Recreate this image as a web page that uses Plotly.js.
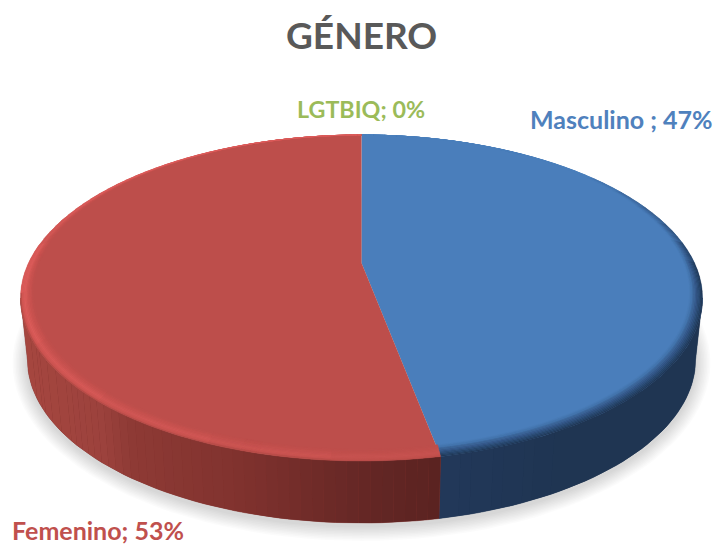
<!DOCTYPE html>
<html>
<head>
<meta charset="utf-8">
<script src="https://cdn.plot.ly/plotly-3.0.1.min.js"></script>
<style>html,body{margin:0;padding:0;background:#fff}#chart{width:716px;height:544px}</style>
</head>
<body>
<div id="chart"></div>
<script>
// Data
const categories = ['Masculino ', 'Femenino', 'LGTBIQ'];
const shares = [47, 53, 0];
const chartTitle = 'GÉNERO';

// Drawing parameters of the tilted disc
const top3d = {cx: 361.5, cy: 298, rx: 341, ry: 163, tipDrop: 35};
const bottom3d = {cx: 361.5, cy: 360, rx: 334, ry: 163};
const bevel = {dx: 13, dy: 6, rings: 10};
const faceColors = ['#4a7ebb', '#bd4e4b', '#9bbb59'];
const c = top3d.tipDrop / top3d.ry, k = Math.sqrt(1 - c * c);
const rad = d => d * Math.PI / 180;

function unit(deg) { // perspective: pie angle to point of unit circle
  const u = Math.sin(rad(deg)), v = Math.cos(rad(deg)), den = 1 + c * v;
  return [u * k / den, (v + c) / den];
}
function onTop(deg, t) {
  const [a, b] = unit(deg);
  return [top3d.cx + a * (top3d.rx - bevel.dx * t),
          top3d.cy - bevel.dy * t - b * (top3d.ry - bevel.dy * t)];
}
function onBottom(deg) {
  const [a, b] = unit(deg);
  return [bottom3d.cx + a * bottom3d.rx, bottom3d.cy - b * bottom3d.ry];
}
const hex = s => [1, 3, 5].map(i => parseInt(s.substr(i, 2), 16));
const toHex = a => '#' + a.map(v => Math.round(v).toString(16).padStart(2, '0')).join('');
function ramp(stops, x) {
  if (x <= stops[0][0]) return hex(stops[0][1]);
  for (let i = 1; i < stops.length; i++) {
    if (x <= stops[i][0]) {
      const f = (x - stops[i - 1][0]) / (stops[i][0] - stops[i - 1][0]);
      const A = hex(stops[i - 1][1]), B = hex(stops[i][1]);
      return A.map((v, j) => v + (B[j] - v) * f);
    }
  }
  return hex(stops[stops.length - 1][1]);
}
const redWall = [[27, '#a5463f'], [100, '#9c423d'], [130, '#8e3a35'], [240, '#80322e'], [361, '#652725'], [437, '#5b2321']];
const blueWall = [[437, '#22385a'], [560, '#1f3552'], [700, '#1f3552']];
const blueRim = [[0, '#1f3552'], [0.25, '#27456b'], [0.55, '#35598a'], [0.82, '#4273aa'], [1, '#4a7ebb']];
const redRimFront = [[0, '#a8463f'], [0.14, '#cf5552'], [0.36, '#dc5c5a'], [0.7, '#ca5350'], [1, '#bd4e4b']];
const redRimBack = [[0, '#d85a58'], [0.36, '#dc5c5a'], [0.7, '#ca5350'], [1, '#bd4e4b']];
function mix(col, baseHex, s) {
  const base = hex(baseHex);
  return col.map((v, i) => base[i] + (v - base[i]) * s);
}

const traces = [];
const groups = new Map();
function addPoly(color, pts) {
  if (!groups.has(color)) groups.set(color, {x: [], y: []});
  const g = groups.get(color);
  pts.forEach(p => { g.x.push(p[0]); g.y.push(p[1]); });
  g.x.push(pts[0][0], null); g.y.push(pts[0][1], null);
}
function flush(width) {
  groups.forEach((g, color) => traces.push({type: 'scatter', mode: 'lines', x: g.x, y: g.y, fill: 'toself',
    fillcolor: color, line: {color: color, width: width}, hoverinfo: 'skip', showlegend: false}));
  groups.clear();
}

// soft shadow under the disc
for (let e = 15; e >= 1; e -= 1.5) {
  const xs = [], ys = [];
  for (let d = 0; d <= 360; d += 3) {
    xs.push(bottom3d.cx + Math.sin(rad(d)) * (bottom3d.rx + e));
    ys.push(bottom3d.cy + 3 - Math.cos(rad(d)) * (bottom3d.ry + e));
  }
  traces.push({type: 'scatter', mode: 'lines', x: xs, y: ys, fill: 'toself', fillcolor: 'rgba(0,0,0,0.014)',
    line: {width: 0}, hoverinfo: 'skip', showlegend: false});
}

// slice angles from the values
const total = shares.reduce((a, b) => a + b, 0);
let acc = 0;
const slices = shares.map((v, i) => {
  const s = {i, start: acc / total * 360, end: (acc + v) / total * 360};
  acc += v; return s;
}).filter(s => s.end > s.start);

// side wall: solid underlay, then shaded strips
slices.forEach(s => {
  const a = Math.max(s.start, 102.4), b = Math.min(s.end, 257.6);
  const step = 1.6;
  const upper = [], lower = [];
  for (let d = a; d < b; d += step) { upper.push(onTop(d, 0)); lower.unshift(onBottom(d)); }
  upper.push(onTop(b, 0)); lower.unshift(onBottom(b));
  addPoly(s.i === 0 ? '#1f3552' : '#80322e', upper.concat(lower));
  flush(0.5);
  for (let d = a; d < b; d += step) {
    const e = Math.min(d + step, b);
    const p1 = onTop(d, 0), p2 = onTop(e, 0), q2 = onBottom(e), q1 = onBottom(d);
    const col = toHex(ramp(s.i === 0 ? blueWall : redWall, (p1[0] + p2[0]) / 2));
    addPoly(col, [p1, p2, q2, q1]);
  }
  flush(0);
});

// top face
slices.forEach(s => {
  const pts = [[top3d.cx, top3d.cy - top3d.tipDrop]];
  for (let d = s.start; d < s.end; d += 1) pts.push(onTop(d, 0));
  pts.push(onTop(s.end, 0));
  addPoly(faceColors[s.i], pts);
  flush(0);
});

// bevel along the rim
slices.forEach(s => {
  const step = 2.5;
  for (let d = s.start; d < s.end; d += step) {
    const e = Math.min(d + step, s.end);
    const mid = (d + e) / 2;
    let strength;
    if (s.i === 0) strength = Math.round(Math.min(1, Math.max(0, (mid - 50) / 45)) * 6) / 6;
    else strength = Math.round(Math.min(1, Math.max(0.3, 0.3 + (mid - 170) / 80 * 0.7)) * 6) / 6;
    for (let r = 0; r < bevel.rings; r++) {
      const t0 = r / bevel.rings, t1 = (r + 1) / bevel.rings, tm = (t0 + t1) / 2;
      let col;
      if (s.i === 0) col = mix(ramp(blueRim, tm), '#4a7ebb', strength);
      else col = mix(ramp(mid > 258 ? redRimBack : redRimFront, tm), '#bd4e4b', strength);
      addPoly(toHex(col), [onTop(d, t0), onTop(e, t0), onTop(e, t1), onTop(d, t1)]);
    }
  }
});
flush(0.4);

const labelText = i => categories[i] + '; ' + shares[i] + '%';
const labelFont = (col, size) => ({family: 'Lato, sans-serif', size: size, color: col});
const annotations = [
  {x: 361, y: 34, text: '<b>' + chartTitle + '</b>', font: {family: 'Lato, sans-serif', size: 37, color: '#595959'}},
  {x: 621.5, y: 119, text: '<b>' + labelText(0) + '</b>', font: labelFont('#4f81bd', 25)},
  {x: 97.5, y: 530, text: '<b>' + labelText(1) + '</b>', font: labelFont('#c0504d', 25)},
  {x: 361, y: 109, text: '<b>' + labelText(2) + '</b>', font: labelFont('#9bbb59', 23.3)}
].map(a => Object.assign(a, {xref: 'x', yref: 'y', showarrow: false, xanchor: 'center', yanchor: 'middle'}));

Plotly.newPlot('chart', traces, {
  width: 716, height: 544, margin: {l: 0, r: 0, t: 0, b: 0},
  paper_bgcolor: '#fff', plot_bgcolor: '#fff', showlegend: false, hovermode: false,
  xaxis: {range: [0, 716], visible: false, fixedrange: true},
  yaxis: {range: [544, 0], visible: false, fixedrange: true},
  annotations
}, {displayModeBar: false, staticPlot: true});
</script>
</body>
</html>
